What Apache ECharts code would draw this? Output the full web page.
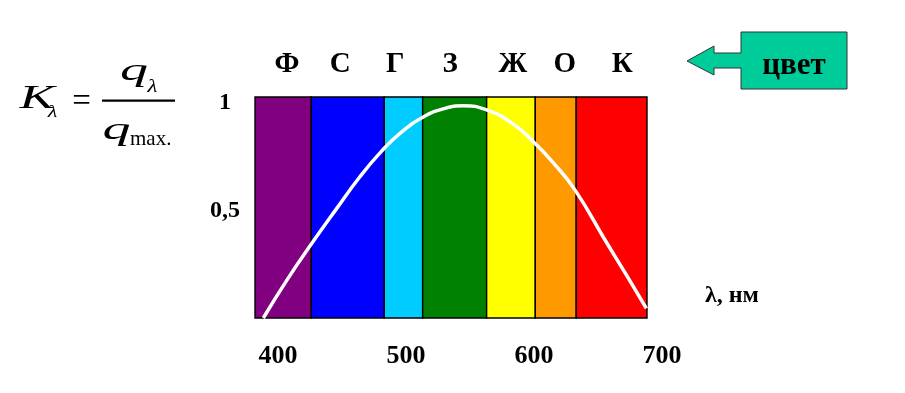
<!DOCTYPE html>
<html>
<head>
<meta charset="utf-8">
<script src="https://cdn.jsdelivr.net/npm/echarts@6/dist/echarts.min.js"></script>
<style>
html,body{margin:0;padding:0;background:#fff;}
#chart{width:905px;height:393px;}
</style>
</head>
<body>
<div id="chart"></div>
<script>
// Spectral colour bands (wavelength edges, nm)
var bandEdges = [382, 426, 483, 513, 563, 601, 633, 688.3];
var bandColors = ['#800080', '#0000FF', '#00CCFF', '#008000', '#FFFF00', '#FF9900', '#FF0000'];
// Colour letters above the bands and their wavelength positions
var colorLetters = ['Ф', 'С', 'Г', 'З', 'Ж', 'О', 'К'];
var letterNm = [407, 448.5, 491.5, 534.5, 583.5, 624, 669];
// Relative spectral sensitivity curve K(λ)
var curveNm = [388.5, 406.8, 426.3, 445.9, 464.1, 479.7, 495.3, 513.5, 529.1, 544.8, 563.0, 583.8, 600.8, 615.1, 632.0, 656.8, 672.4, 687.8];
var curveK  = [0.0, 0.175, 0.346, 0.51, 0.658, 0.768, 0.859, 0.935, 0.973, 0.987, 0.968, 0.902, 0.812, 0.722, 0.596, 0.35, 0.198, 0.045];
// Axis tick labels
var xTicks = [400, 500, 600, 700];
var yTicks = [0.5, 1];

var chart = echarts.init(document.getElementById('chart'), null, {renderer: 'canvas'});

var bandData = [];
for (var i = 0; i < bandColors.length; i++) {
  bandData.push([bandEdges[i], bandEdges[i + 1], i]);
}
var letterData = colorLetters.map(function (l, i) { return [letterNm[i], 1.028, l]; });
var curveData = curveNm.map(function (x, i) { return [x, curveK[i]]; });

var serif = '"Liberation Serif", "Times New Roman", serif';

var option = {
  backgroundColor: '#ffffff',
  animation: false,
  grid: [
    {left: 255, right: 258, top: 97, bottom: 75},
    {left: 150, width: 640, top: 97, bottom: 75}
  ],
  xAxis: [
    {
      type: 'value', gridIndex: 0, min: 382, max: 688.3,
      axisLine: {show: false}, axisTick: {show: false}, axisLabel: {show: false}, splitLine: {show: false},
      name: 'λ, нм', nameLocation: 'end', nameGap: 58,
      nameTextStyle: {fontFamily: serif, fontWeight: 'bold', fontSize: 24, color: '#000',
        align: 'left', verticalAlign: 'bottom', padding: [0, 0, 10, 0]}
    },
    {
      type: 'value', gridIndex: 1, min: 300, max: 800, interval: 100,
      axisLine: {show: false}, axisTick: {show: false}, splitLine: {show: false},
      axisLabel: {
        show: true, margin: 25, showMinLabel: false, showMaxLabel: false,
        fontFamily: serif, fontWeight: 'bold', fontSize: 26, color: '#000',
        formatter: function (v) { return xTicks.indexOf(v) >= 0 ? String(v) : ''; }
      }
    }
  ],
  yAxis: [
    {
      type: 'value', gridIndex: 0, min: 0, max: 1.028, interval: 0.5,
      axisLine: {show: false}, axisTick: {show: false}, splitLine: {show: false},
      axisLabel: {
        show: true, margin: 30, align: 'center', showMinLabel: false, showMaxLabel: false,
        fontFamily: serif, fontWeight: 'bold', fontSize: 24, color: '#000',
        formatter: function (v) { return yTicks.indexOf(v) >= 0 ? String(v).replace('.', ',') : ''; }
      }
    },
    {type: 'value', gridIndex: 1, min: 0, max: 1, show: false}
  ],
  series: [
    {
      type: 'custom', xAxisIndex: 0, yAxisIndex: 0, silent: true, z: 1,
      data: bandData,
      renderItem: function (params, api) {
        var p0 = api.coord([api.value(0), 1.028]);
        var p1 = api.coord([api.value(1), 0]);
        return {
          type: 'rect',
          shape: {x: p0[0], y: p0[1], width: p1[0] - p0[0], height: p1[1] - p0[1]},
          style: {fill: bandColors[api.value(2)], stroke: '#000', lineWidth: 1.4}
        };
      }
    },
    {
      type: 'custom', xAxisIndex: 0, yAxisIndex: 0, silent: true, z: 3,
      data: letterData,
      renderItem: function (params, api) {
        var p = api.coord([api.value(0), api.value(1)]);
        return {
          type: 'text',
          x: p[0], y: p[1] - 32,
          style: {text: colorLetters[params.dataIndex], fontFamily: serif, fontWeight: 'bold', fontSize: 29,
            fill: '#000', align: 'center', verticalAlign: 'middle'}
        };
      }
    },
    {
      type: 'line', xAxisIndex: 0, yAxisIndex: 0, z: 5,
      data: curveData, smooth: 0.5, symbol: 'none',
      lineStyle: {color: '#ffffff', width: 3.5}
    }
  ],
  graphic: [
    // formula K_λ = q_λ / q_max.
    {type: 'text', x: 37, y: 99, scaleX: 1.6, style: {text: 'K', fontFamily: serif, fontStyle: 'italic', fontSize: 33, fill: '#000', align: 'center', verticalAlign: 'middle'}},
    {type: 'text', x: 52.5, y: 112.5, scaleX: 1.3, style: {text: 'λ', fontFamily: serif, fontStyle: 'italic', fontSize: 17, fill: '#000', align: 'center', verticalAlign: 'middle'}},
    {type: 'text', x: 81.5, y: 102, style: {text: '=', fontFamily: serif, fontSize: 33, fill: '#000', align: 'center', verticalAlign: 'middle'}},
    {type: 'rect', shape: {x: 102, y: 99.5, width: 73, height: 2.2}, style: {fill: '#000'}},
    {type: 'text', x: 134, y: 72, scaleX: 1.75, style: {text: 'q', fontFamily: serif, fontStyle: 'italic', fontSize: 32, fill: '#000', align: 'center', verticalAlign: 'middle'}},
    {type: 'text', x: 152.5, y: 87, scaleX: 1.2, style: {text: 'λ', fontFamily: serif, fontStyle: 'italic', fontSize: 19, fill: '#000', align: 'center', verticalAlign: 'middle'}},
    {type: 'text', x: 116.5, y: 130.5, scaleX: 1.75, style: {text: 'q', fontFamily: serif, fontStyle: 'italic', fontSize: 32, fill: '#000', align: 'center', verticalAlign: 'middle'}},
    {type: 'text', x: 130, y: 139, style: {text: 'max.', fontFamily: serif, fontSize: 21, fill: '#000', align: 'left', verticalAlign: 'middle'}},
    // arrow callout "цвет"
    {type: 'polygon', shape: {points: [[687, 61], [714, 46], [714, 53], [741, 53], [741, 32], [847, 32], [847, 89], [741, 89], [741, 68], [714, 68], [714, 75]]},
      style: {fill: '#00CC99', stroke: '#333', lineWidth: 1}},
    {type: 'text', x: 794, y: 66, style: {text: 'цвет', fontFamily: serif, fontWeight: 'bold', fontSize: 31, fill: '#000', align: 'center', verticalAlign: 'middle'}}
  ]
};
chart.setOption(option);
</script>
</body>
</html>
